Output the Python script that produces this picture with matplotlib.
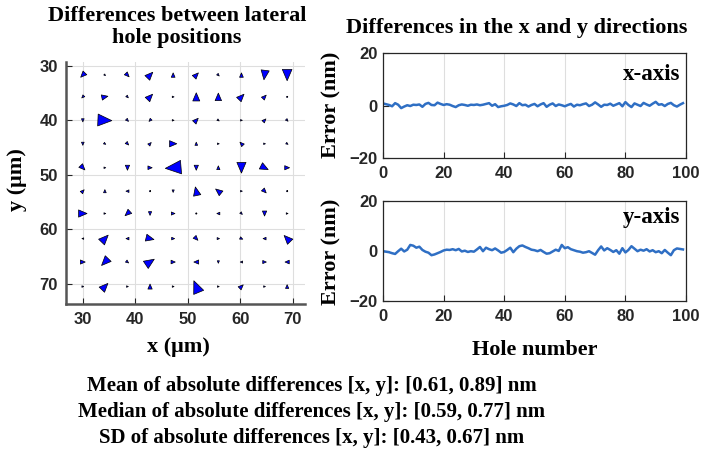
import matplotlib
matplotlib.use("Agg")
import matplotlib.pyplot as plt
import numpy as np

# hole grid (um)
grid_x = [30.0, 34.2, 38.5, 42.8, 47.2, 51.6, 55.8, 60.2, 64.6, 68.9]
grid_y = [31.7, 35.7, 40.0, 44.3, 48.7, 53.0, 57.1, 61.7, 66.0, 70.5]

# lateral differences per hole (rows follow grid_y, columns follow grid_x)
diff_u = [
    [-0.7, 0.2, 0.55, 0.9, 0.0, 0.7, 0.3, 0.0, -0.2, 0.0],
    [-0.35, 1.0, 0.3, 0.85, 0.3, 0.0, 0.0, 0.85, 0.55, 0.2],
    [0.0, 2.3, 0.35, -0.35, 0.3, 0.65, 0.3, 0.3, 0.45, 0.3],
    [0.0, 0.3, 0.4, 0.4, 1.2, 0.0, 0.3, -0.5, 0.3, 0.3],
    [0.7, 0.3, 0.0, 0.7, -2.6, 0.0, 0.0, 0.0, 1.2, 0.8],
    [0.45, 0.0, -0.5, 0.2, 0.0, -0.3, -0.9, 0.3, 0.55, 0.2],
    [1.4, 0.3, -0.8, 0.0, 0.6, 0.2, -0.5, 0.3, 0.0, 0.3],
    [-0.3, 1.1, -0.5, 1.3, 0.5, 0.55, 0.4, 0.45, -0.5, -1.0],
    [0.8, -1.1, 0.4, 1.4, 0.7, -0.8, 0.0, -0.4, 0.6, -0.7],
    [0.3, 1.0, 0.3, 0.0, 0.3, -0.8, 0.3, 0.6, 0.3, 0.0],
]
diff_v = [
    [0.7, 0.2, 0.55, -0.9, -0.7, -0.7, 0.3, -0.7, 1.5, 1.8],
    [0.35, -0.2, 0.3, -0.85, 0.0, -1.3, -1.2, -0.85, -0.55, 0.0],
    [0.5, 0.1, 0.35, 0.35, 0.0, -0.65, 0.2, 0.0, -0.45, 0.3],
    [0.5, 0.2, 0.4, -0.4, 0.0, -0.5, 0.0, -0.5, 0.0, 0.2],
    [0.7, 0.0, 0.8, 0.0, 0.2, 0.8, -0.6, 1.7, 0.6, 0.0],
    [-0.45, -0.5, 0.0, 0.0, 0.4, -1.35, -0.7, 0.0, 0.55, 0.0],
    [0.0, 0.0, 0.7, 0.6, 0.0, 0.0, 0.0, 0.3, 0.8, 0.0],
    [0.0, -1.1, 0.0, 0.3, 0.0, 0.55, 0.0, 0.2, 0.0, -1.0],
    [0.0, 1.1, 0.3, -0.9, 0.0, 0.0, 0.4, 0.0, 0.0, 0.0],
    [0.0, -1.0, 0.0, -0.8, 0.0, -1.85, 0.0, -0.55, 0.0, -0.6],
]

hole_number = list(range(100))
err_x = [
    0.8, 0.5, 0.2, -0.3, 0.9, 0.3, -1.0, -0.4, 0.1, -0.2,
    0.3, 0.2, 0.4, -0.5, 0.6, 1.0, 0.2, 0.1, 1.1, 0.6,
    0.2, 0.5, 0.3, -0.2, -0.6, 0.1, 0.4, 0.2, -0.1, 0.3,
    0.2, 0.4, 0.1, 0.3, 0.6, 0.9, -0.1, 0.5, -0.6, -0.3,
    -0.1, 0.2, 0.8, 0.4, -0.2, 0.9, 0.1, 0.3, -0.4, 0.2,
    0.6, -0.3, 0.4, 0.9, -0.5, 0.3, 0.8, -0.2, 0.4, 0.1,
    -0.3, 0.2, 0.6, -0.4, 0.3, 0.1, 0.5, 0.8, -0.2, 0.3,
    1.2, 0.4, -0.5, 0.3, 0.2, 0.7, -0.1, 0.4, 0.9, -0.3,
    1.3, 0.2, -0.6, 0.8, 0.3, -0.2, 1.0, 0.4, -0.1, 0.7,
    1.4, 0.3, 0.5, -0.2, 0.6, 1.0, 0.1, -0.4, 0.3, 0.9,
]
err_y = [
    -0.2, -0.4, -0.6, -1.0, -1.3, -0.2, 0.8, -0.3, 0.4, 2.3,
    2.0, 1.2, 1.6, 0.3, -0.4, -0.8, -1.8, -1.5, -1.0, -0.5,
    0.1, 0.4, 0.3, 0.6, 0.2, 0.7, -0.3, 0.0, -0.5, -0.2,
    -0.4, 0.5, 1.5, -0.2, 1.2, 0.6, 0.2, 0.9, 0.1, -0.8,
    -0.5, 0.3, 1.2, -0.6, 0.8, 1.8, 2.1, 1.5, 1.0, 0.4,
    0.2, -0.2, 0.3, -0.5, -1.2, -1.0, -0.3, 0.4, -0.1, 2.3,
    1.0, 1.4, 0.6, 0.2, -0.2, -0.4, -0.8, -0.6, -0.2, -0.9,
    -1.6, 0.2, 1.7, 0.1, 1.0, 0.3, -0.5, 0.2, -1.2, 1.0,
    -0.7, 0.3, 1.8, 0.8, -0.2, 0.4, 0.0, 0.6, -0.3, 0.2,
    -0.6, -0.2, -1.0, 0.3, -0.8, -1.8, 0.2, 0.9, 0.7, 0.5,
]

stats_lines = [
    "Mean of absolute differences [x, y]: [0.61, 0.89] nm",
    "Median of absolute differences [x, y]: [0.59, 0.77] nm",
    "SD of absolute differences [x, y]: [0.43, 0.67] nm",
]

W, H = 704, 453
SERIF = "Liberation Serif"
SANS = "Liberation Sans"
LINE_BLUE = "#2f6fc4"
GRID = "#dedede"
SPINE = "#262626"


def fx(px):
    return px / W


def fy(py):
    return 1 - py / H


def style_ticks(ax):
    ax.tick_params(direction="in", length=4, width=0.8, colors=SPINE, pad=6)
    for lab in ax.get_xticklabels() + ax.get_yticklabels():
        lab.set_fontfamily(SANS)
        lab.set_fontweight("bold")
        lab.set_fontsize(12)
        lab.set_color("#262626")


fig = plt.figure(figsize=(W / 100, H / 100), dpi=100)

# quiver map
ax = fig.add_axes([fx(66), fy(304), fx(305) - fx(66), fy(62) - fy(304)])
gx, gy = np.meshgrid(grid_x, grid_y)
ax.quiver(gx, gy, np.array(diff_u), np.array(diff_v),
          angles="xy", scale_units="xy", scale=0.87, units="xy", width=0.25,
          headlength=14, headaxislength=14, headwidth=12, pivot="middle",
          color="blue", edgecolor="black", linewidth=0.5)
ax.set_xlim(26.8, 72.3)
ax.set_ylim(73.7, 29.3)
ax.set_xticks([30, 40, 50, 60, 70])
ax.set_yticks([30, 40, 50, 60, 70])
ax.grid(True, color=GRID, linewidth=0.8)
ax.set_axisbelow(True)
for s in ["top", "right"]:
    ax.spines[s].set_visible(False)
for s in ["left", "bottom"]:
    ax.spines[s].set_color("#555555")
    ax.spines[s].set_linewidth(1.8)
style_ticks(ax)

# error traces
ax_x = fig.add_axes([fx(383), fy(157.7), fx(686) - fx(383), fy(53.3) - fy(157.7)])
ax_y = fig.add_axes([fx(383), fy(300.7), fx(686) - fx(383), fy(200.7) - fy(300.7)])
for a, series, tag, tag_y in [(ax_x, err_x, "x-axis", 80), (ax_y, err_y, "y-axis", 223)]:
    a.plot(hole_number, series, color=LINE_BLUE, linewidth=1.8)
    a.set_xlim(0, 100)
    a.set_ylim(-20, 20)
    a.set_xticks([0, 20, 40, 60, 80, 100])
    a.set_yticks([-20, 0, 20])
    a.grid(True, axis="x", color=GRID, linewidth=0.8)
    a.set_axisbelow(True)
    for s in a.spines.values():
        s.set_color(SPINE)
        s.set_linewidth(0.9)
    style_ticks(a)
    fig.text(fx(680), fy(tag_y), tag, ha="right", va="baseline",
             family=SERIF, weight="bold", fontsize=16.5)
    a.tick_params(axis="y", pad=4)

txt = dict(family=SERIF, weight="bold", fontsize=16, color="black")
fig.text(fx(177), fy(21), "Differences between lateral", ha="center", va="baseline", **txt)
fig.text(fx(177), fy(43), "hole positions", ha="center", va="baseline", **txt)
fig.text(fx(517), fy(33), "Differences in the x and y directions", ha="center", va="baseline", **txt)
fig.text(fx(17), fy(180), "y (\u03bcm)", ha="center", va="center", rotation=90, **txt)
fig.text(fx(331), fy(105), "Error (nm)", ha="center", va="center", rotation=90, **txt)
fig.text(fx(331), fy(252), "Error (nm)", ha="center", va="center", rotation=90, **txt)
fig.text(fx(178), fy(352), "x (\u03bcm)", ha="center", va="baseline", **txt)
fig.text(fx(535), fy(355), "Hole number", ha="center", va="baseline", **txt)

for i, line in enumerate(stats_lines):
    fig.text(fx(312), fy(391 + 26 * i), line, ha="center", va="baseline",
             family=SERIF, weight="bold", fontsize=15)

fig.savefig("out.png", dpi=100)
